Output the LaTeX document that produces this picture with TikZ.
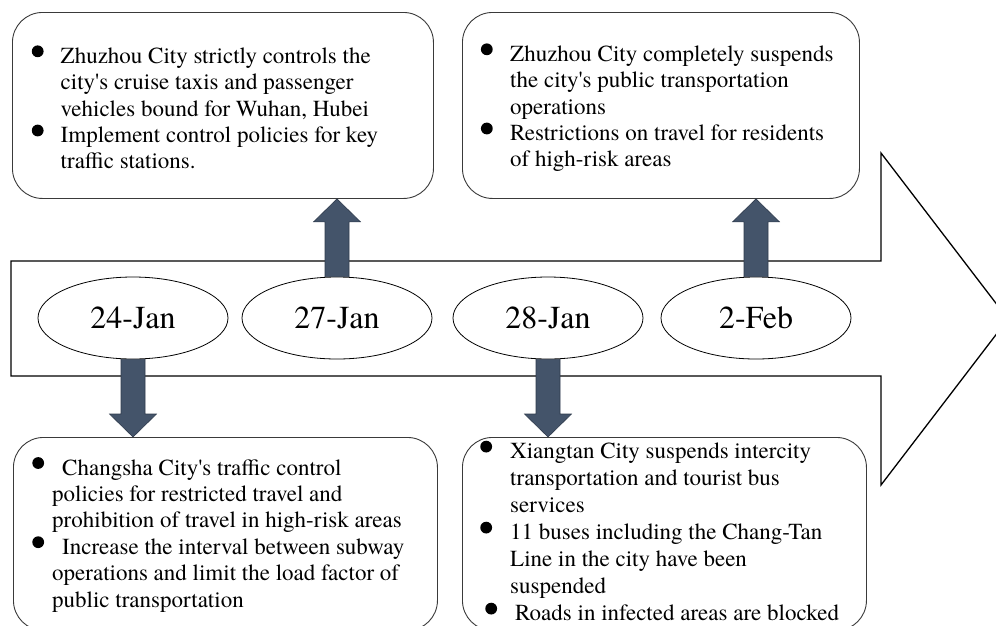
\documentclass[tikz,border=0pt]{standalone}
\usepackage{fontspec}
\setmainfont{TeX Gyre Termes}
\usetikzlibrary{shapes.geometric,calc}
\definecolor{conncol}{HTML}{44546A}
\definecolor{connedge}{HTML}{2F3B4D}
\definecolor{boxline}{HTML}{3A3A3A}

\newcommand\bul{\makebox[0pt]{\tikz[baseline=0pt,x=1pt,y=1pt]\fill[black] (0,12) circle (5.9);}}
\newcommand\apo{\textquotesingle}

\newcommand\blockconn[2]{%
  \path[connfill] let \p1=(#1), \p2=(#2), \p3=($(#2)!23pt!(#1)$) in
    (\x1-12pt,\y1) -- (\x1-12pt,\y3) -- (\x1-23.5pt,\y3) -- (\x2,\y2) --
    (\x1+23.5pt,\y3) -- (\x1+12pt,\y3) -- (\x1+12pt,\y1) -- cycle;}

\tikzset{
  bigarrow/.style={draw=black, line width=1.3pt, line join=miter, fill=white},
  datebox/.style={ellipse, draw=black, line width=0.8pt, fill=white,
    minimum width=190pt, minimum height=82pt, inner sep=0pt,
    font=\rmfamily\fontsize{32}{36}\selectfont, text height=21.6pt, text depth=0pt},
  textbox/.style={draw=boxline, line width=0.9pt, rounded corners=30pt,
    fill=white, inner sep=0pt, anchor=north west},
  txt/.style={inner sep=0pt, anchor=base west, align=left,
    font=\rmfamily\fontsize{23}{26.4}\selectfont},
  txtwide/.style={txt, font=\rmfamily\fontsize{23}{27}\selectfont},
  connfill/.style={fill=conncol, draw=connedge, line width=0.6pt}
}

\begin{document}
\begin{tikzpicture}[x=1pt, y=-1pt]
\useasboundingbox (0,0) rectangle (996,625);
\clip (0,0) rectangle (996,625);

% big timeline arrow
\draw[bigarrow] (11,261) -- (881,261) -- (881,153) -- (1008,319) --
  (881,485) -- (881,376) -- (11,376) -- cycle;

% date ellipses
\node[datebox] (e1) at (133,318) {24-Jan};
\node[datebox] (e2) at (337,318) {27-Jan};
\node[datebox] (e3) at (548,318) {28-Jan};
\node[datebox] (e4) at (756,318) {2-Feb};

% boxes
\node[textbox, minimum width=421pt, minimum height=186pt] (b1) at (12,12) {};
\node[textbox, minimum width=397pt, minimum height=186pt] (b2) at (462,12) {};
\node[textbox, minimum width=424pt, minimum height=193pt] (b3) at (13,437) {};
\node[textbox, minimum width=404pt, minimum height=193pt] (b4) at (462,437) {};

% connectors
\blockconn{e1.south}{e1.south |- b3.north}
\blockconn{e2.north}{e2.north |- b1.south}
\blockconn{e3.south}{e3.south |- b4.north}
\blockconn{e4.north}{e4.north |- b2.south}

% texts
\node[txt] (t1) at (37.5,63.3) {\begin{tabular}[t]{@{}l@{}l@{}}
\makebox[23pt][l]{\bul} & Zhuzhou City strictly controls the\\
 & city\apo s cruise taxis and passenger\\
 & vehicles bound for Wuhan, Hubei\\
\bul & Implement control policies for key\\
 & traffic stations.
\end{tabular}};

\node[txt] (t2) at (486.6,61.3) {\begin{tabular}[t]{@{}l@{}l@{}}
\makebox[23.4pt][l]{\bul} & Zhuzhou City completely suspends\\
 & the city\apo s public transportation\\
 & operations\\
\bul & Restrictions on travel for residents\\
 & of high-risk areas
\end{tabular}};

\node[txt] (t3) at (38,475) {\begin{tabular}[t]{@{}l@{}l@{}}
\makebox[24pt][l]{\bul} & Changsha City\apo s traffic control\\
 & \hspace*{-10pt}policies for restricted travel and\\
 & \hspace*{-10pt}prohibition of travel in high-risk areas\\
\bul & Increase the interval between subway\\
 & \hspace*{-10pt}operations and limit the load factor of\\
 & \hspace*{-10pt}public transportation
\end{tabular}};

\node[txtwide] (t4) at (486,458.6) {\begin{tabular}[t]{@{}l@{}l@{}}
\makebox[24pt][l]{\bul} & Xiangtan City suspends intercity\\
 & transportation and tourist bus\\
 & services\\
\bul & 11 buses including the Chang-Tan\\
 & Line in the city have been\\
 & suspended\\
\hspace*{5pt}\bul & \hspace*{5pt}Roads in infected areas are blocked
\end{tabular}};
\end{tikzpicture}
\end{document}
